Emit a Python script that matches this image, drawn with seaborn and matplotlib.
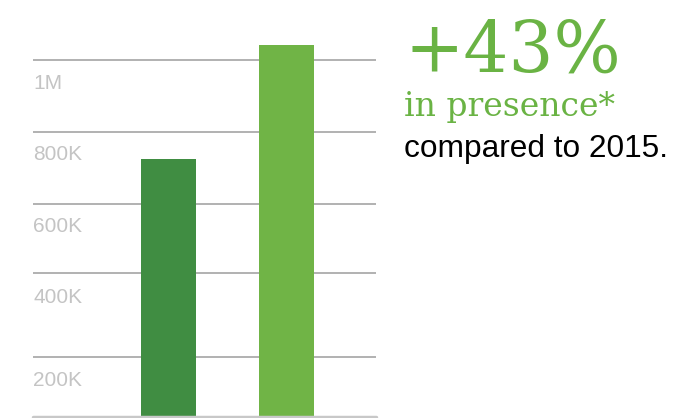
import matplotlib
matplotlib.use("Agg")
import matplotlib.pyplot as plt
import matplotlib.transforms as mtransforms
import seaborn as sns
import pandas as pd

# ---- data ----
categories = ["2015", "2016"]
values = [770000, 1110000]
bar_colors = ["#408D42", "#70B446"]
gridline_values = [179000, 430000, 636000, 851000, 1066000]
tick_positions = [110000, 358000, 570000, 785000, 997000]
tick_labels = ["200K", "400K", "600K", "800K", "1M"]

headline = "+43%"
subline = "in presence*"
caption = "compared to 2015."

sns.set_theme(style="white")
plt.rcParams['font.family'] = ['Liberation Sans', 'DejaVu Sans']

fig = plt.figure(figsize=(6.77, 4.18), dpi=100)
W, H = 677, 418
ax = fig.add_axes([33 / W, 1 - 417 / H, (376 - 33) / W, 417 / H])

df = pd.DataFrame({"year": categories, "value": values})
sns.barplot(data=df, x="year", y="value", hue="year", palette=bar_colors,
            width=0.466, legend=False, ax=ax, saturation=1, linewidth=0,
            zorder=2)

ax.set_xlim(-1.148, 1.758)
ax.set_ylim(0, 1244800)

for g in gridline_values:
    ax.axhline(g, color="#ABABAB", lw=1.3, zorder=0)
ax.axhline(0, color="#C8C8C8", lw=2.5, zorder=3, clip_on=False)

trans = mtransforms.blended_transform_factory(ax.transAxes, ax.transData)
for pos, lab in zip(tick_positions, tick_labels):
    ax.text(0.0, pos, lab, transform=trans, ha="left", va="center",
            fontsize=15, color="#C4C4C4")

ax.set_xticks([])
ax.set_yticks([])
ax.set_xlabel("")
ax.set_ylabel("")
for s in ax.spines.values():
    s.set_visible(False)
ax.patch.set_alpha(0)

green = "#6AB344"
fig.text(404 / W, 1 - 72 / H, headline, ha="left", va="baseline",
         fontsize=51, color=green, family=["DejaVu Serif"])
fig.text(404 / W, 1 - 116 / H, subline, ha="left", va="baseline",
         fontsize=23.8, color=green, family=["DejaVu Serif"])
fig.text(404 / W, 1 - 157 / H, caption, ha="left", va="baseline",
         fontsize=22.8, color="black", family=["Liberation Sans", "DejaVu Sans"])

fig.savefig("out.png", dpi=100)
